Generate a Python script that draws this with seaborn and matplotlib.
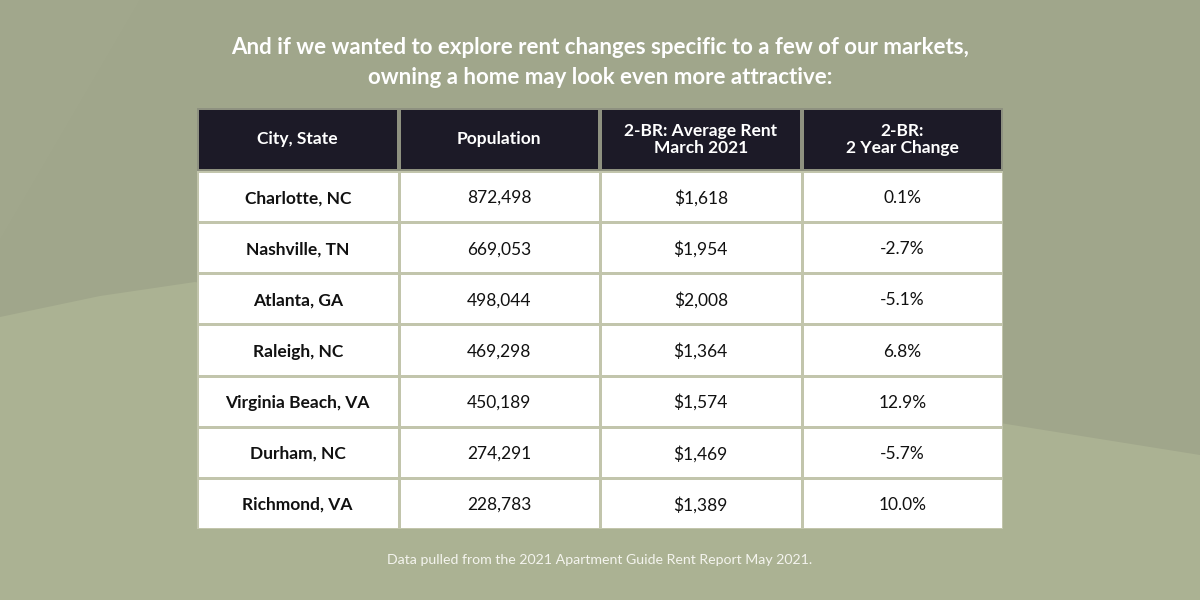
import numpy as np
import matplotlib
matplotlib.use("Agg")
import matplotlib.pyplot as plt
from matplotlib.patches import Polygon
from matplotlib.colors import ListedColormap
import seaborn as sns

title_lines = ["And if we wanted to explore rent changes specific to a few of our markets,",
               "owning a home may look even more attractive:"]
headers = ["City, State", "Population", "2-BR: Average Rent\nMarch 2021", "2-BR:\n2 Year Change"]
cities = ["Charlotte, NC", "Nashville, TN", "Atlanta, GA", "Raleigh, NC",
          "Virginia Beach, VA", "Durham, NC", "Richmond, VA"]
population = [872498, 669053, 498044, 469298, 450189, 274291, 228783]
avg_rent = [1618, 1954, 2008, 1364, 1574, 1469, 1389]
change_pct = [0.1, -2.7, -5.1, 6.8, 12.9, -5.7, 10.0]
footer = "Data pulled from the 2021 Apartment Guide Rent Report May 2021."

sns.set_theme(style="white")
plt.rcParams['font.family'] = ['Lato', 'DejaVu Sans']

W, H = 1200, 600
fig = plt.figure(figsize=(12, 6), dpi=100)
fig.patch.set_facecolor('#A0A68B')

def fy(y):
    return 1 - y / H

# background decoration axes (behind everything)
bg = fig.add_axes([0, 0, 1, 1], zorder=-10)
bg.set_xlim(0, W)
bg.set_ylim(H, 0)
bg.axis('off')
pts = [(0, 317), (100, 296), (195, 282), (400, 318), (700, 372), (1000, 423), (1200, 455), (1200, 600), (0, 600)]
bg.add_patch(Polygon(pts, closed=True, facecolor='#ABB293', edgecolor='none'))
pts2 = [(0, 0), (140, 0), (0, 240)]
bg.add_patch(Polygon(pts2, closed=True, facecolor='#A1A78C', edgecolor='none'))

line_col = '#C2C5AC'
left, right = 197, 1003

# header
axh = fig.add_axes([left / W, fy(171), (right - left) / W, (171 - 108) / H])
hdata = np.ones((1, 4))
hannot = np.array([headers])
sns.heatmap(hdata, ax=axh, cmap=ListedColormap(['#1C1A27']), cbar=False,
            annot=hannot, fmt='', linewidths=1.7, linecolor='#8E9180',
            xticklabels=False, yticklabels=False,
            annot_kws=dict(color='white', fontsize=12.5, fontweight='bold', linespacing=1.15))
axh.axis('off')

# body
axb = fig.add_axes([left / W, fy(529), (right - left) / W, (529 - 171) / H])
bdata = np.zeros((len(cities), 4))
bannot = np.array([[c, f"{p:,}", f"${r:,}", f"{v:.1f}%"]
                   for c, p, r, v in zip(cities, population, avg_rent, change_pct)])
sns.heatmap(bdata, ax=axb, cmap=ListedColormap(['white']), cbar=False,
            annot=bannot, fmt='', linewidths=1.8, linecolor=line_col,
            xticklabels=False, yticklabels=False,
            annot_kws=dict(color='#111111', fontsize=12.5))
for t in axb.texts:
    x, y = t.get_position()
    t.set_position((x, y + 0.03))
    if t.get_text() in cities:
        t.set_fontweight('bold')
axb.axis('off')

fig.text(0.5, fy(48), title_lines[0], ha='center', va='center', color='white',
         fontsize=16, fontweight='bold')
fig.text(0.5, fy(78), title_lines[1], ha='center', va='center', color='white',
         fontsize=16, fontweight='bold')
fig.text(0.5, fy(560), footer, ha='center', va='center', color='#F4F4EE', fontsize=10.2)

fig.savefig('out.png', dpi=100, facecolor=fig.get_facecolor())
